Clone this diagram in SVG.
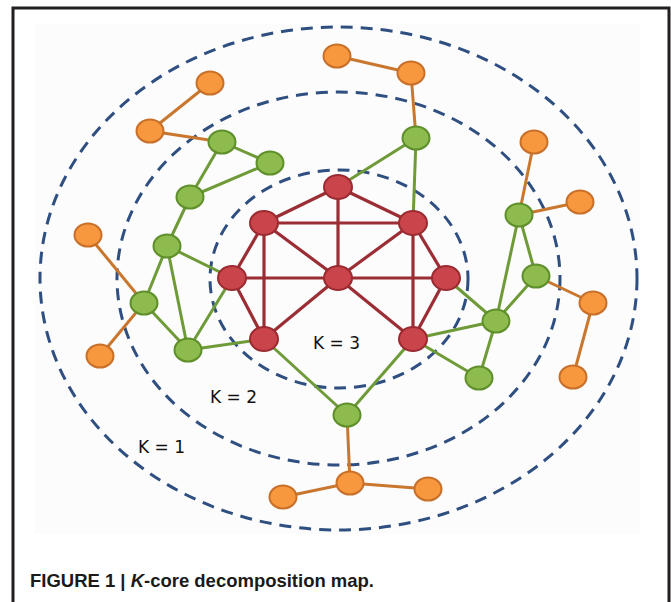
<svg xmlns="http://www.w3.org/2000/svg" width="671" height="602" viewBox="0 0 671 602">
<style>
.ring{fill:none;stroke:#2f4f80;stroke-width:3;stroke-dasharray:12 8}
.er{stroke:#9b2d35;stroke-width:3.2}
.eg{stroke:#6f9a38;stroke-width:3}
.eo{stroke:#c9772f;stroke-width:3}
.nr{fill:#c9454b;stroke:#9b2a31;stroke-width:2}
.ng{fill:#8dbb4d;stroke:#5f8f2b;stroke-width:2}
.no{fill:#f7983e;stroke:#c8702a;stroke-width:2}
.k{font-family:"DejaVu Sans",Verdana,sans-serif;font-size:17px;fill:#111}
.cap{font-family:"Liberation Sans",Arial,sans-serif;font-size:19px;font-weight:bold;fill:#1a1a1a}
</style>
<rect x="0" y="0" width="671" height="602" fill="#ffffff"/>
<rect x="35" y="24" width="605" height="510" fill="#fcfcfc"/>
<path d="M13 602 V8 H669 V602" fill="none" stroke="#231f20" stroke-width="3"/>
<g id="rings">
<ellipse class="ring" cx="339" cy="279" rx="129" ry="109"/>
<ellipse class="ring" cx="338.5" cy="278.5" rx="221.5" ry="186.5"/>
<ellipse class="ring" cx="338.5" cy="278.5" rx="298.5" ry="251.5"/>
</g>
<g id="connectors">
<line class="er" x1="338" y1="187" x2="264" y2="223"/>
<line class="er" x1="338" y1="187" x2="413" y2="223"/>
<line class="er" x1="338" y1="187" x2="338" y2="278"/>
<line class="er" x1="264" y1="223" x2="413" y2="223"/>
<line class="er" x1="264" y1="223" x2="232" y2="278"/>
<line class="er" x1="264" y1="223" x2="338" y2="278"/>
<line class="er" x1="264" y1="223" x2="264" y2="339"/>
<line class="er" x1="413" y1="223" x2="338" y2="278"/>
<line class="er" x1="413" y1="223" x2="446" y2="278"/>
<line class="er" x1="413" y1="223" x2="413" y2="339"/>
<line class="er" x1="232" y1="278" x2="446" y2="278"/>
<line class="er" x1="232" y1="278" x2="264" y2="339"/>
<line class="er" x1="338" y1="278" x2="264" y2="339"/>
<line class="er" x1="338" y1="278" x2="413" y2="339"/>
<line class="er" x1="446" y1="278" x2="413" y2="339"/>
<line class="eg" x1="222" y1="142" x2="270" y2="163"/>
<line class="eg" x1="222" y1="142" x2="190" y2="197"/>
<line class="eg" x1="270" y1="163" x2="190" y2="197"/>
<line class="eg" x1="190" y1="197" x2="167" y2="246"/>
<line class="eg" x1="167" y1="246" x2="144" y2="303"/>
<line class="eg" x1="167" y1="246" x2="188" y2="350"/>
<line class="eg" x1="167" y1="246" x2="232" y2="278"/>
<line class="eg" x1="144" y1="303" x2="188" y2="350"/>
<line class="eg" x1="188" y1="350" x2="232" y2="278"/>
<line class="eg" x1="188" y1="350" x2="264" y2="339"/>
<line class="eg" x1="416" y1="138" x2="338" y2="187"/>
<line class="eg" x1="416" y1="138" x2="413" y2="223"/>
<line class="eg" x1="519" y1="215" x2="536" y2="276"/>
<line class="eg" x1="519" y1="215" x2="496" y2="321"/>
<line class="eg" x1="536" y1="276" x2="496" y2="321"/>
<line class="eg" x1="496" y1="321" x2="446" y2="278"/>
<line class="eg" x1="496" y1="321" x2="413" y2="339"/>
<line class="eg" x1="496" y1="321" x2="479" y2="378"/>
<line class="eg" x1="413" y1="339" x2="479" y2="378"/>
<line class="eg" x1="413" y1="339" x2="347" y2="415"/>
<line class="eg" x1="264" y1="339" x2="347" y2="415"/>
<line class="eo" x1="210" y1="83" x2="150" y2="131"/>
<line class="eo" x1="150" y1="131" x2="222" y2="142"/>
<line class="eo" x1="88" y1="235" x2="144" y2="303"/>
<line class="eo" x1="100" y1="356" x2="144" y2="303"/>
<line class="eo" x1="337" y1="56" x2="411" y2="73"/>
<line class="eo" x1="411" y1="73" x2="416" y2="138"/>
<line class="eo" x1="534" y1="142" x2="519" y2="215"/>
<line class="eo" x1="580" y1="202" x2="519" y2="215"/>
<line class="eo" x1="593" y1="303" x2="536" y2="276"/>
<line class="eo" x1="593" y1="303" x2="573" y2="377"/>
<line class="eo" x1="347" y1="415" x2="350" y2="483"/>
<line class="eo" x1="350" y1="483" x2="428" y2="489"/>
<line class="eo" x1="350" y1="483" x2="283" y2="497"/>
</g>
<g id="R1"><ellipse class="nr" cx="338" cy="187" rx="14" ry="12"/></g>
<g id="R2"><ellipse class="nr" cx="264" cy="223" rx="14" ry="12"/></g>
<g id="R3"><ellipse class="nr" cx="413" cy="223" rx="14" ry="12"/></g>
<g id="R4"><ellipse class="nr" cx="232" cy="278" rx="14" ry="12"/></g>
<g id="R5"><ellipse class="nr" cx="338" cy="278" rx="14" ry="12"/></g>
<g id="R6"><ellipse class="nr" cx="446" cy="278" rx="14" ry="12"/></g>
<g id="R7"><ellipse class="nr" cx="264" cy="339" rx="14" ry="12"/></g>
<g id="R8"><ellipse class="nr" cx="413" cy="339" rx="14" ry="12"/></g>
<g id="G1"><ellipse class="ng" cx="222" cy="142" rx="13.5" ry="11.5"/></g>
<g id="G2"><ellipse class="ng" cx="270" cy="163" rx="13.5" ry="11.5"/></g>
<g id="G3"><ellipse class="ng" cx="190" cy="197" rx="13.5" ry="11.5"/></g>
<g id="G4"><ellipse class="ng" cx="167" cy="246" rx="13.5" ry="11.5"/></g>
<g id="G5"><ellipse class="ng" cx="144" cy="303" rx="13.5" ry="11.5"/></g>
<g id="G6"><ellipse class="ng" cx="188" cy="350" rx="13.5" ry="11.5"/></g>
<g id="G7"><ellipse class="ng" cx="416" cy="138" rx="13.5" ry="11.5"/></g>
<g id="G8"><ellipse class="ng" cx="519" cy="215" rx="13.5" ry="11.5"/></g>
<g id="G9"><ellipse class="ng" cx="536" cy="276" rx="13.5" ry="11.5"/></g>
<g id="G10"><ellipse class="ng" cx="496" cy="321" rx="13.5" ry="11.5"/></g>
<g id="G11"><ellipse class="ng" cx="479" cy="378" rx="13.5" ry="11.5"/></g>
<g id="G12"><ellipse class="ng" cx="347" cy="415" rx="13.5" ry="11.5"/></g>
<g id="O1"><ellipse class="no" cx="210" cy="83" rx="13.5" ry="11.5"/></g>
<g id="O2"><ellipse class="no" cx="150" cy="131" rx="13.5" ry="11.5"/></g>
<g id="O3"><ellipse class="no" cx="88" cy="235" rx="13.5" ry="11.5"/></g>
<g id="O4"><ellipse class="no" cx="100" cy="356" rx="13.5" ry="11.5"/></g>
<g id="O5"><ellipse class="no" cx="337" cy="56" rx="13.5" ry="11.5"/></g>
<g id="O6"><ellipse class="no" cx="411" cy="73" rx="13.5" ry="11.5"/></g>
<g id="O7"><ellipse class="no" cx="534" cy="142" rx="13.5" ry="11.5"/></g>
<g id="O8"><ellipse class="no" cx="580" cy="202" rx="13.5" ry="11.5"/></g>
<g id="O9"><ellipse class="no" cx="593" cy="303" rx="13.5" ry="11.5"/></g>
<g id="O10"><ellipse class="no" cx="573" cy="377" rx="13.5" ry="11.5"/></g>
<g id="O11"><ellipse class="no" cx="350" cy="483" rx="13.5" ry="11.5"/></g>
<g id="O12"><ellipse class="no" cx="428" cy="489" rx="13.5" ry="11.5"/></g>
<g id="O13"><ellipse class="no" cx="283" cy="497" rx="13.5" ry="11.5"/></g>
<g id="labels">
<text class="k" x="313" y="349">K = 3</text>
<text class="k" x="210" y="403">K = 2</text>
<text class="k" x="138" y="453">K = 1</text>
</g>
<text class="cap" x="30" y="587" textLength="344" lengthAdjust="spacingAndGlyphs">FIGURE 1 | <tspan font-style="italic">K</tspan>-core decomposition map.</text>
</svg>
